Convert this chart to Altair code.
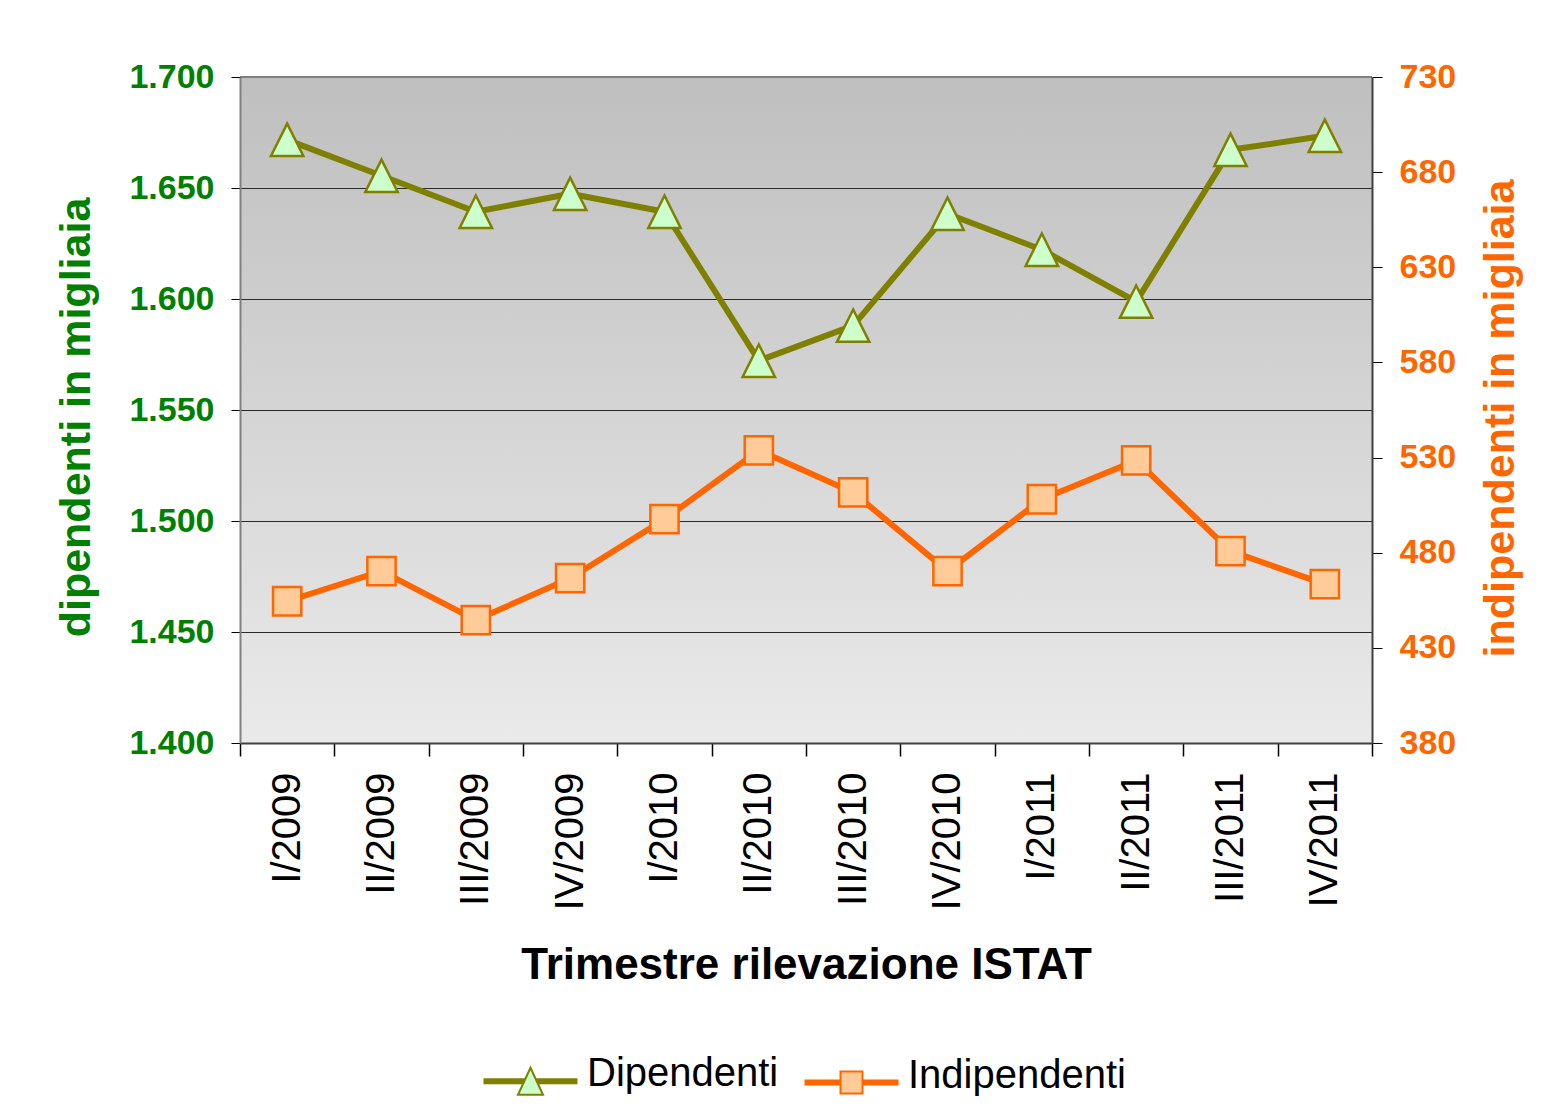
import altair as alt
import pandas as pd

# ---- data ----
quarters = ["I/2009", "II/2009", "III/2009", "IV/2009",
            "I/2010", "II/2010", "III/2010", "IV/2010",
            "I/2011", "II/2011", "III/2011", "IV/2011"]
dipendenti = [1671.7, 1655.5, 1639.3, 1647.4, 1639.3, 1572.2,
              1588.0, 1638.4, 1622.2, 1598.8, 1667.2, 1673.5]
indipendenti = [454.5, 470.3, 444.6, 466.6, 497.6, 533.8,
                511.7, 470.3, 508.1, 528.5, 480.8, 463.5]
series_names = ["Dipendenti", "Indipendenti"]
left_ticks = [1400, 1450, 1500, 1550, 1600, 1650, 1700]
right_ticks = [380, 430, 480, 530, 580, 630, 680, 730]

FONT = "Liberation Sans"
OLIVE, LGREEN = "#808000", "#ccffcc"
ORANGE, LORANGE = "#ff6600", "#ffcc99"
GREEN_TXT = "#008000"

dip_df = pd.DataFrame({"quarter": quarters, "value": dipendenti})
ind_df = pd.DataFrame({"quarter": quarters, "value": indipendenti})
grid_df = pd.DataFrame({"value": left_ticks[1:-1]})
top_df = pd.DataFrame({"value": left_ticks[-1:]})
legend_df = pd.DataFrame({"series": series_names})
bg_df = pd.DataFrame({"bg": [0]})

TRI = "M0,-1L1,1L-1,1Z"
LEG_DIP = ("M-3.76,0.40L-0.43,0.40M-3.76,0.56L-0.5,0.56M-3.76,0.72L-0.57,0.72"
           "M0.43,0.40L3.76,0.40M0.5,0.56L3.76,0.56M0.57,0.72L3.76,0.72"
           "M0,-0.52L1,1.64L-1,1.64Z")
LEG_IND = ("M-3.76,0.40L-0.88,0.40M-3.76,0.56L-0.88,0.56M-3.76,0.72L-0.88,0.72"
           "M0.88,0.40L3.76,0.40M0.88,0.56L3.76,0.56M0.88,0.72L3.76,0.72"
           "M-0.88,-0.32L0.88,-0.32L0.88,1.44L-0.88,1.44Z")

x_enc = alt.X(
    "quarter:N",
    bandPosition=0.5,
    scale=alt.Scale(type="band", domain=quarters, paddingInner=0, paddingOuter=0),
    axis=alt.Axis(
        title="Trimestre rilevazione ISTAT",
        labelAngle=270, labelAlign="right", labelBaseline="middle",
        labelFontSize=40, labelFont=FONT, labelColor="black", labelPadding=16,
        labelOverlap=False, labelLimit=400,
        tickSize=13, tickColor="black", tickWidth=1.5, tickBand="extent",
        domainColor="#404040", domainWidth=2, grid=False,
        titleFontSize=44, titleFont=FONT, titleFontWeight="bold", titleColor="black",
        titleX=566, titleY=235, titleAlign="center", titleBaseline="alphabetic",
        zindex=1,
    ),
)

y_dip = alt.Y(
    "value:Q",
    scale=alt.Scale(domain=[1400, 1700], nice=False, zero=False),
    axis=alt.Axis(
        orient="left", values=left_ticks,
        labelExpr="replace(format(datum.value, ',.0f'), ',', '.')",
        labelFontSize=34, labelFontWeight="bold", labelColor=GREEN_TXT, labelFont=FONT,
        labelPadding=17, tickSize=9, tickColor="black", tickWidth=1,
        domainColor="#808080", domainWidth=2, grid=False,
        title="dipendenti in migliaia", titleFontSize=43, titleFontWeight="bold",
        titleColor=GREEN_TXT, titleFont=FONT, titleAngle=270,
        titleX=-151, titleY=340, titleAlign="center", titleBaseline="alphabetic",
        zindex=1,
    ),
)

y_ind = alt.Y(
    "value:Q",
    scale=alt.Scale(domain=[380, 730], nice=False, zero=False),
    axis=alt.Axis(
        orient="right", values=right_ticks, format="d",
        labelFontSize=34, labelFontWeight="bold", labelColor=ORANGE, labelFont=FONT,
        labelPadding=17, tickSize=10, tickColor="black", tickWidth=1,
        domainColor="#404040", domainWidth=2, grid=False,
        title="indipendenti in migliaia", titleFontSize=43, titleFontWeight="bold",
        titleColor=ORANGE, titleFont=FONT, titleAngle=270,
        titleX=141, titleY=341, titleAlign="center", titleBaseline="alphabetic",
        zindex=1,
    ),
)

background = alt.Chart(bg_df).mark_rect(
    fill={"gradient": "linear", "x1": 0, "x2": 0, "y1": 0, "y2": 1,
          "stops": [{"offset": 0, "color": "#bfbfbf"},
                    {"offset": 1, "color": "#eaeaea"}]},
).encode(x=alt.value(0), x2=alt.value("width"), y=alt.value(0), y2=alt.value("height"))

grid = alt.Chart(grid_df).mark_rule(
    color="#2a2a2a", strokeWidth=1, yOffset=0.5
).encode(y=y_dip)
top_border = alt.Chart(top_df).mark_rule(
    color="#808080", strokeWidth=2
).encode(y=y_dip)

dip_line = alt.Chart(dip_df).mark_line(
    color=OLIVE, strokeWidth=6, strokeJoin="round", strokeCap="round"
).encode(x=x_enc, y=y_dip)
dip_pts = alt.Chart(dip_df).mark_point(
    shape=TRI, size=1050, filled=True, fill=LGREEN, stroke=OLIVE,
    strokeWidth=2.5, opacity=1
).encode(x=x_enc, y=y_dip)

ind_line = alt.Chart(ind_df).mark_line(
    color=ORANGE, strokeWidth=6, strokeJoin="round", strokeCap="round"
).encode(x=x_enc, y=y_ind)
ind_pts = alt.Chart(ind_df).mark_point(
    shape="square", size=800, filled=True, fill=LORANGE, stroke=ORANGE,
    strokeWidth=2.5, opacity=1
).encode(x=x_enc, y=y_ind)

leg = alt.Legend(
    orient="none", legendX=270.5, legendY=977, direction="horizontal", title=None,
    labelFontSize=40, labelFont=FONT, labelColor="black", labelLimit=400,
    symbolSize=625, symbolStrokeWidth=2, labelOffset=36.5, columnPadding=22,
    padding=0,
)
legend_layer = alt.Chart(legend_df).mark_point(
    filled=True, opacity=1, strokeWidth=2
).encode(
    fill=alt.Fill("series:N", scale=alt.Scale(domain=series_names, range=[LGREEN, LORANGE]), legend=leg),
    stroke=alt.Stroke("series:N", scale=alt.Scale(domain=series_names, range=[OLIVE, ORANGE]), legend=leg),
    shape=alt.Shape("series:N", scale=alt.Scale(domain=series_names, range=[LEG_DIP, LEG_IND]), legend=leg),
).transform_filter("datum.series == 'none'")

dip_layer = alt.layer(grid, top_border, dip_line, dip_pts)
ind_layer = alt.layer(ind_line, ind_pts)

chart = alt.layer(background, dip_layer, ind_layer, legend_layer).resolve_scale(
    y="independent"
).properties(
    width=1132, height=666,
    autosize=alt.AutoSizeParams(type="none"),
    padding={"left": 232, "top": 69, "right": 170, "bottom": 362},
    background="white",
).configure(font=FONT).configure_view(stroke=None)

chart.save("out.html", embed_options={"renderer": "svg", "actions": False})
